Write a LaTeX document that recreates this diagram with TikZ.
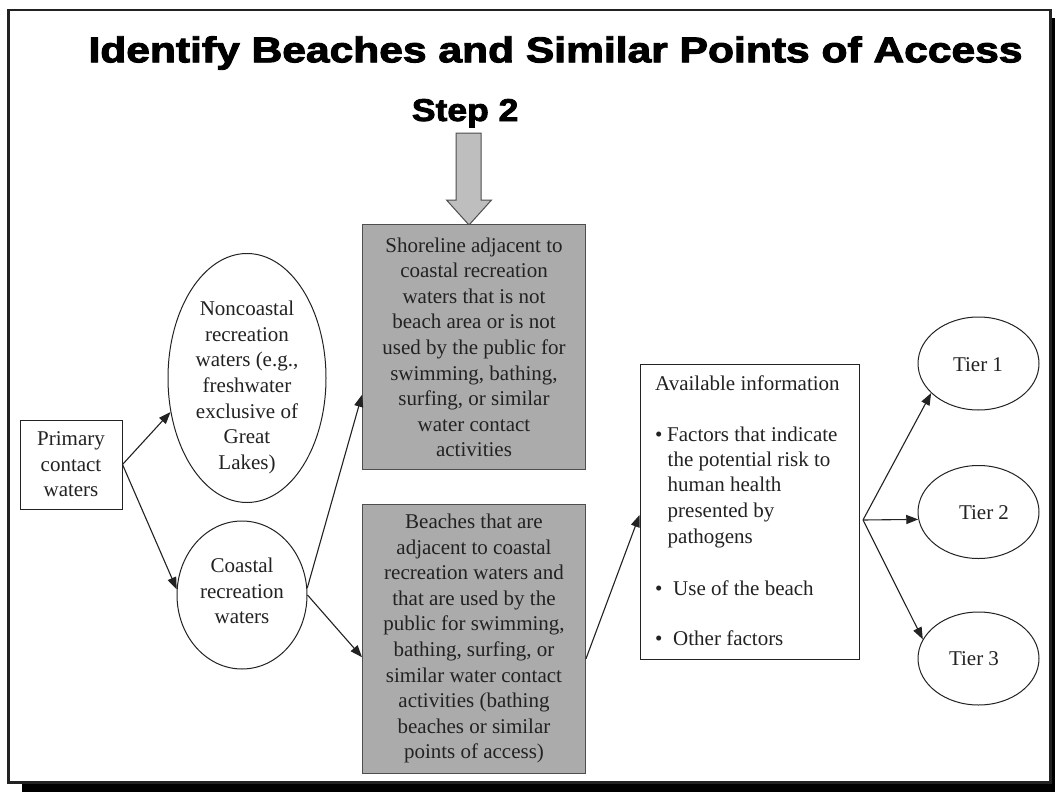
\documentclass[tikz,border=0pt]{standalone}
\usepackage{graphicx}
\usepackage{fontspec}
\setmainfont{Liberation Serif}
\newfontfamily\heavyfont[BoldFeatures={FakeBold=2.5}]{Liberation Sans}
\usetikzlibrary{arrows.meta,shapes.geometric}
\definecolor{boxgray}{HTML}{ABABAB}
\definecolor{arrowgray}{HTML}{BEBEBE}
\definecolor{ink}{HTML}{222222}
\begin{document}
\begin{tikzpicture}[x=1pt,y=-1pt,
  body/.style={font=\fontsize{21}{25.6}\selectfont, text=ink},
  plainbox/.style={draw=ink, line width=1pt, fill=white, inner sep=0pt},
  graybox/.style={draw=ink!80, line width=1pt, fill=boxgray, inner sep=0pt, minimum width=223pt, minimum height=245pt, body, align=center},
  oval/.style={ellipse, draw=ink, line width=1pt, inner sep=0pt, fill=white},
  txt/.style={body, inner sep=0pt, align=center},
  infoline/.style={body, inner sep=0pt, anchor=base west},
  conn/.style={draw=ink, line width=1.1pt, -{Triangle[length=12pt,width=9pt]}},
]
\useasboundingbox (0,0) rectangle (1055,792);
\fill[white] (0,0) rectangle (1055,792);
\fill[black] (22,18) rectangle (1055,792);
\draw[draw=ink, line width=2.5pt, fill=white] (8.5,10) rectangle (1050.5,782.5);

% title
\node[inner sep=0pt, anchor=base west, text=black] (title) at (88.3,62.3)
  {\resizebox{934pt}{26pt}{\heavyfont\bfseries Identify Beaches and Similar Points of Access}};
\node[inner sep=0pt, anchor=base west, text=black] (step) at (411.7,121)
  {\resizebox{106.5pt}{22pt}{\heavyfont\bfseries Step 2}};

% block arrow
\draw[draw=ink!80, fill=arrowgray, line width=1pt]
  (456,133) -- (481,133) -- (481,200) -- (491.5,200) -- (469,225) -- (446.5,200) -- (456,200) -- cycle;

% nodes
\node[plainbox, minimum width=102pt, minimum height=89pt, body, align=center] (prim) at (71,464.5)
  {Primary\\contact\\waters};

\node[oval, minimum width=158pt, minimum height=249pt] (nonc) at (247,378) {};
\node[txt] (nonctext) at (247,387.5)
  {Noncoastal\\recreation\\waters (e.g.,\\freshwater\\exclusive of\\Great\\Lakes)};

\node[oval, minimum width=130pt, minimum height=148pt] (coast) at (242,595) {};
\node[txt] (coasttext) at (242,591) {Coastal\\recreation\\waters};

\node[graybox] (shore) at (474,347.3)
  {Shoreline adjacent to\\coastal recreation\\waters that is not\\beach area or is not\\used by the public for\\swimming, bathing,\\surfing, or similar\\water contact\\activities};

\node[graybox, minimum height=269pt] (beach) at (474,638.7)
  {Beaches that are\\adjacent to coastal\\recreation waters and\\that are used by the\\public for swimming,\\bathing, surfing, or\\similar water contact\\activities (bathing\\beaches or similar\\points of access)};

\node[plainbox, minimum width=219pt, minimum height=295pt] (info) at (749.5,511.5) {};
\node[infoline] (i1) at (655,390) {Available information};
\node[infoline] (i2) at (655,441) {\makebox[12pt][l]{•}Factors that indicate};
\node[infoline] (i3) at (667.5,466.5) {the potential risk to};
\node[infoline] (i4) at (667.5,491.5) {human health};
\node[infoline] (i5) at (667.5,517.5) {presented by};
\node[infoline] (i6) at (667.5,543) {pathogens};
\node[infoline] (i7) at (655,595) {\makebox[18pt][l]{•}Use of the beach};
\node[infoline] (i8) at (655,645.5) {\makebox[18pt][l]{•}Other factors};

\node[oval, minimum width=121pt, minimum height=93pt] (t1) at (978.5,363.5) {};
\node[txt] (t1text) at (978,365) {Tier 1};
\node[oval, minimum width=121pt, minimum height=93pt] (t2) at (978.5,512) {};
\node[txt] (t2text) at (984,513) {Tier 2};
\node[oval, minimum width=121pt, minimum height=93pt] (t3) at (978.5,658.5) {};
\node[txt] (t3text) at (974,659) {Tier 3};

% connectors
\draw[conn] (prim.east) -- (nonc.204);
\draw[conn] (prim.east) -- (coast.175);
\draw[conn] (coast.6) -- ([yshift=-47.5pt]shore.west);
\draw[conn] (coast.east) -- ([yshift=-18.5pt]beach.west);
\draw[conn] ([yshift=-20pt]beach.east) -- ([yshift=-3.5pt]info.west);
\coordinate (fan) at (863,520);
\draw[conn] (fan) -- (t1.212);
\draw[conn] (fan) -- (t2.187.5);
\draw[conn] (fan) -- (t3.161);
\end{tikzpicture}
\end{document}
